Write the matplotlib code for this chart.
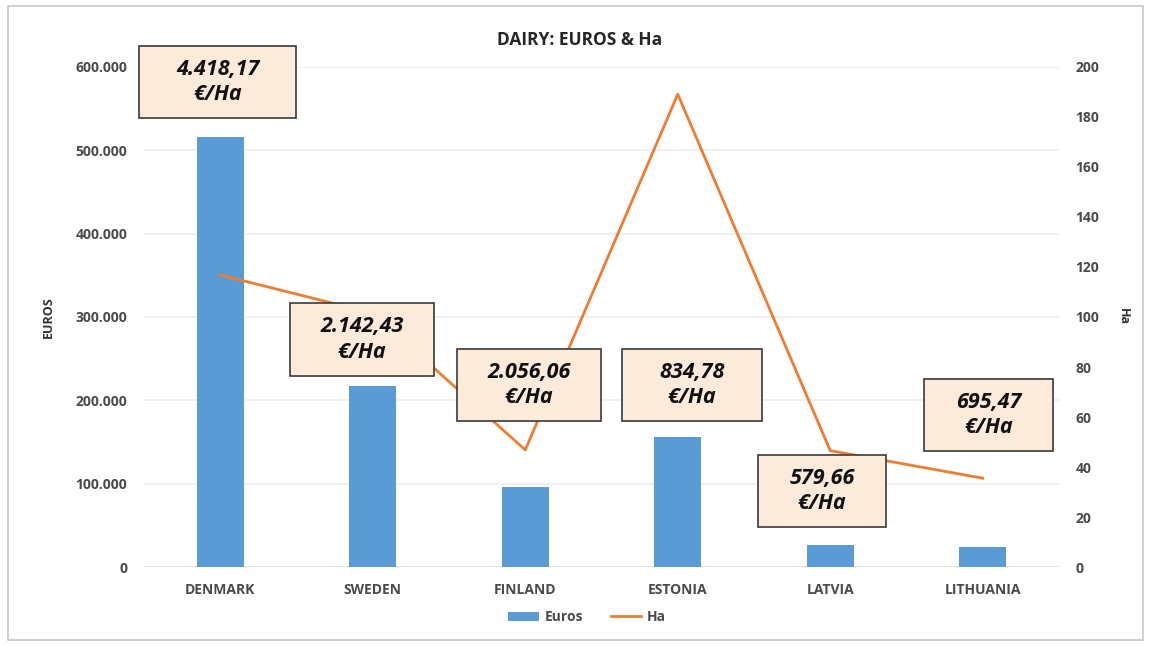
import matplotlib
matplotlib.use("Agg")
import matplotlib.pyplot as plt
from matplotlib.patches import Rectangle
from matplotlib.ticker import FuncFormatter
import numpy as np

countries = ["DENMARK", "SWEDEN", "FINLAND", "ESTONIA", "LATVIA", "LITHUANIA"]
euros = [516000, 217300, 96600, 156500, 26400, 24300]
hectares = [116.8, 101.5, 46.9, 189.0, 46.6, 35.6]
per_ha_labels = ["4.418,17", "2.142,43", "2.056,06", "834,78", "579,66", "695,47"]
left_ticks = [0, 100000, 200000, 300000, 400000, 500000, 600000]
right_ticks = [0, 20, 40, 60, 80, 100, 120, 140, 160, 180, 200]

plt.rcParams['font.family'] = ['Open Sans', 'DejaVu Sans']

W, H = 1151, 646
fig = plt.figure(figsize=(W / 100, H / 100), dpi=100)
ax_l, ax_r, ax_t, ax_b = 144, 1059, 66.7, 567.3
ax = fig.add_axes([ax_l / W, (H - ax_b) / H, (ax_r - ax_l) / W, (ax_b - ax_t) / H])
ax2 = ax.twinx()

# outer frame
fig.patches.append(Rectangle((8 / W, 1 - 640 / H), (1143 - 8) / W, (640 - 6) / H,
                             transform=fig.transFigure, fill=False,
                             edgecolor="#C8C8C8", linewidth=1.2))

x = np.arange(len(countries))
bar_c = "#5B9BD5"
line_c = "#ED7D31"
tick_c = "#4A4A4A"

ax.bar(x, euros, width=0.31, color=bar_c, zorder=2, label="Euros")
ax2.plot(x, hectares, color=line_c, linewidth=2, zorder=3, label="Ha")

ax.set_xlim(-0.5, len(countries) - 0.5)
ax.set_ylim(0, 600000)
ax2.set_ylim(0, 200)
ax.set_yticks(left_ticks)
ax2.set_yticks(right_ticks)
ax.yaxis.set_major_formatter(FuncFormatter(lambda v, p: f"{v:,.0f}".replace(",", ".")))
ax.set_xticks(x)
ax.set_xticklabels(countries)

for a in (ax, ax2):
    for s in a.spines.values():
        s.set_visible(False)
    a.tick_params(length=0, colors=tick_c, labelsize=10)
    for lab in a.get_yticklabels() + a.get_xticklabels():
        lab.set_fontweight("bold")
ax.tick_params(axis="y", pad=12)
ax2.tick_params(axis="y", pad=12)
ax.tick_params(axis="x", pad=11)
ax.grid(axis="y", color="#EDEDED", linewidth=1.2, zorder=0)
ax.set_axisbelow(True)
ax.axhline(0, color="#E0E0E0", linewidth=1.2, zorder=1)

ax.set_ylabel("EUROS", fontsize=9, fontweight="bold", color="#333333")
ax.yaxis.set_label_coords(-0.097, 0.5)
ax2.set_ylabel("Ha", fontsize=9, fontweight="bold", color="#333333", rotation=270, va="center")
ax2.yaxis.set_label_coords(1.07, 0.5)

fig.text(580 / W, 1 - 40 / H, "DAIRY: EUROS & Ha", ha="center", va="center",
         fontsize=12.5, fontweight="bold", color="#262626")

# annotation boxes (pixel placement)
boxes = [(139, 296, 46, 118), (290, 434, 303, 376), (457, 601, 349, 421),
         (622, 762, 349, 421), (758, 886, 455, 527), (924, 1053, 379, 451)]
for lab, (x0, x1, y0, y1) in zip(per_ha_labels, boxes):
    fig.patches.append(Rectangle((x0 / W, 1 - y1 / H), (x1 - x0) / W, (y1 - y0) / H,
                                 transform=fig.transFigure, facecolor="#FCEADB",
                                 edgecolor="#3A3A3A", linewidth=1.2, zorder=5))
    fig.text((x0 + x1) / 2 / W, 1 - (y0 + y1) / 2 / H, lab + "\n€/Ha",
             ha="center", va="center", fontsize=15.5, fontweight="bold",
             fontstyle="italic", color="#111111", linespacing=1.3, zorder=6)

h1, l1 = ax.get_legend_handles_labels()
h2, l2 = ax2.get_legend_handles_labels()
leg = fig.legend(h1 + h2, l1 + l2, loc="center", bbox_to_anchor=(587 / W, 1 - 617 / H),
                 ncol=2, frameon=False, fontsize=10, handlelength=2.2,
                 handleheight=0.6, columnspacing=2.0, handletextpad=0.4)
for t in leg.get_texts():
    t.set_fontweight("bold")
    t.set_color(tick_c)

fig.savefig("out.png", dpi=100)
